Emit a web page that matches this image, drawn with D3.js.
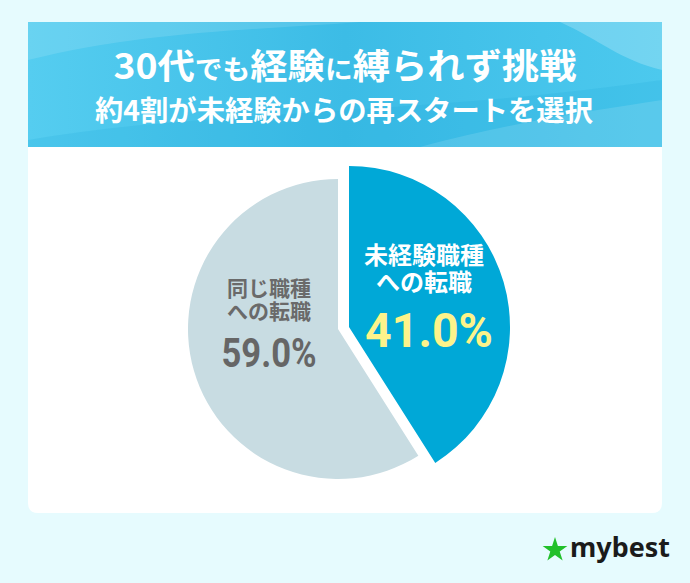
<!DOCTYPE html>
<html>
<head>
<meta charset="utf-8">
<script src="https://cdn.jsdelivr.net/npm/d3@7"></script>
<style>
html,body{margin:0;padding:0;background:#e6fbfe;}
svg{display:block;}
</style>
</head>
<body>
<svg id="chart" width="690" height="583"></svg>
<script>
// ---- data ----
const titleLine1 = [["30代",0],["でも",1],["経験",0],["に",1],["縛られず挑戦",0]];
const titleLine2 = "約4割が未経験からの再スタートを選択";
const categories = ["未経験職種への転職", "同じ職種への転職"];
const labelLines = [["未経験職種", "への転職"], ["同じ職種", "への転職"]];
const values = [41.0, 59.0];
const brand = "mybest";

const svg = d3.select("#chart");
const font = "'Noto Sans CJK JP','Noto Sans',sans-serif";
const numFont = "Roboto,'Noto Sans',sans-serif";

// background
svg.append("rect").attr("width", 690).attr("height", 583).attr("fill", "#e6fbfe");

const defs = svg.append("defs");
const g1 = defs.append("linearGradient").attr("id", "hdr").attr("x1", "0").attr("y1", "0").attr("x2", "1").attr("y2", "0");
g1.append("stop").attr("offset", "0").attr("stop-color", "#55cdf0");
g1.append("stop").attr("offset", "0.5").attr("stop-color", "#3cbce6");
g1.append("stop").attr("offset", "1").attr("stop-color", "#4cc9ee");

// card
const card = {x: 28, y: 22, w: 634, h: 491, hh: 125, r: 10};
svg.append("path")
  .attr("d", `M${card.x},${card.y} H${card.x+card.w} V${card.y+card.h-card.r} Q${card.x+card.w},${card.y+card.h} ${card.x+card.w-card.r},${card.y+card.h} H${card.x+card.r} Q${card.x},${card.y+card.h} ${card.x},${card.y+card.h-card.r} Z`)
  .attr("fill", "#ffffff");
svg.append("rect").attr("x", card.x).attr("y", card.y).attr("width", card.w).attr("height", card.hh).attr("fill", "url(#hdr)");
// subtle waves in header
const clip = defs.append("clipPath").attr("id", "hclip");
clip.append("rect").attr("x", card.x).attr("y", card.y).attr("width", card.w).attr("height", card.hh);
const waves = svg.append("g").attr("clip-path", "url(#hclip)");
waves.append("path").attr("d", "M28,60 C150,30 260,30 360,22 L28,22 Z").attr("fill", "#ffffff").attr("opacity", 0.12);
waves.append("path").attr("d", "M560,22 C600,40 620,60 662,70 L662,22 Z").attr("fill", "#ffffff").attr("opacity", 0.22);
waves.append("path").attr("d", "M28,140 C200,110 420,115 662,80 L662,147 L28,147 Z").attr("fill", "#1aa6d8").attr("opacity", 0.18);
waves.append("path").attr("d", "M420,147 C520,120 600,110 662,100 L662,147 Z").attr("fill", "#ffffff").attr("opacity", 0.12);

// title
const t1 = svg.append("text").attr("x", 345).attr("y", 79).attr("text-anchor", "middle")
  .attr("font-family", font).attr("font-weight", 700).attr("fill", "#ffffff")
  .attr("textLength", 463).attr("lengthAdjust", "spacingAndGlyphs");
titleLine1.forEach(([s, small]) => t1.append("tspan").attr("font-size", small ? 26 : 35).text(s));
svg.append("text").attr("x", 344).attr("y", 121).attr("text-anchor", "middle")
  .attr("font-family", font).attr("font-weight", 700).attr("fill", "#ffffff").attr("font-size", 28)
  .attr("textLength", 498).attr("lengthAdjust", "spacingAndGlyphs")
  .text(titleLine2);

// pie
const pie = d3.pie().sort(null).value(d => d)(values);
const sliceStyle = [
  {fill: "#00a8d7", r: 161, dx: 11, dy: -2, text: "#ffffff", pct: "#fdf38a", lx: 424, ly: 264, lh: 27, py: 347, ps: 49, pw: 128, fs: 24},
  {fill: "#c8dce2", r: 150, dx: 0, dy: 0, text: "#6a6a6a", pct: "#666666", lx: 269, ly: 296, lh: 23, py: 367, ps: 41, pw: 95, fs: 21}
];
const center = {x: 338, y: 329};
const pg = svg.append("g").attr("transform", `translate(${center.x},${center.y})`);
pg.selectAll("path.slice").data(pie).join("path")
  .attr("class", "slice")
  .attr("transform", (d, i) => `translate(${sliceStyle[i].dx},${sliceStyle[i].dy})`)
  .attr("d", (d, i) => d3.arc().innerRadius(0).outerRadius(sliceStyle[i].r)(d))
  .attr("fill", (d, i) => sliceStyle[i].fill);

// labels
pie.forEach((d, i) => {
  const st = sliceStyle[i];
  const lt = svg.append("text").attr("text-anchor", "middle")
    .attr("font-family", font).attr("font-weight", 700).attr("font-size", st.fs)
    .attr("fill", st.text);
  labelLines[i].forEach((line, j) => {
    lt.append("tspan").attr("x", st.lx).attr("y", st.ly + j * st.lh).text(line);
  });
  svg.append("text").attr("x", st.lx + (i === 0 ? 5 : 0)).attr("y", st.py).attr("text-anchor", "middle")
    .attr("font-family", numFont).attr("font-weight", 700).attr("font-size", st.ps)
    .attr("textLength", st.pw).attr("lengthAdjust", "spacingAndGlyphs")
    .attr("fill", st.pct).text(d.data.toFixed(1) + "%");
});

// logo
svg.append("path").attr("d", d3.symbol(d3.symbolStar, 190)())
  .attr("transform", "translate(555,550)").attr("fill", "#22c02b");
svg.append("text").attr("x", 570).attr("y", 557).attr("font-family", "'Noto Sans',sans-serif")
  .attr("font-weight", 700).attr("font-size", 26).attr("fill", "#1b1b1b")
  .attr("textLength", 100).attr("lengthAdjust", "spacingAndGlyphs").text(brand);
</script>
</body>
</html>
